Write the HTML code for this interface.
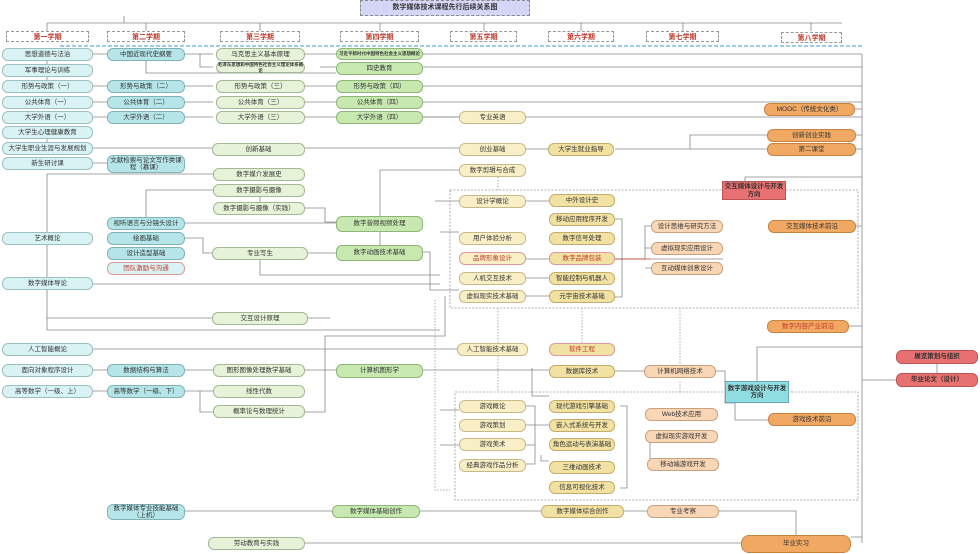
<!DOCTYPE html>
<html><head><meta charset="utf-8"><style>
*{margin:0;padding:0;box-sizing:border-box}
body{width:980px;height:554px;background:#fff;position:relative;overflow:hidden;font-family:"Liberation Sans","Noto Sans CJK SC",sans-serif}
.n{position:absolute;border-radius:6px;border:1px solid #9aa;font-size:6.5px;color:#333;display:flex;align-items:center;justify-content:center;text-align:center;line-height:1.15;height:13px}
.c1{background:#d9f2f4;border-color:#9bbfc3}
.c2{background:#b5e5e8;border-color:#7fb3b8}
.c3{background:#e6f3d9;border-color:#a4b894}
.c4{background:#c7e9b0;border-color:#8fb57a}
.c5{background:#f8efc6;border-color:#c9b98a}
.c6{background:#f1e1a2;border-color:#c4ad6a}
.c7{background:#f9d6b5;border-color:#caa07e}
.c8{background:#f0a862;border-color:#c98240}
.red{color:#c0392b}
.h{position:absolute;height:11px;border:1px dashed #999;font-size:7px;font-weight:bold;color:#c0392b;display:flex;align-items:center;justify-content:center}
svg{position:absolute;left:0;top:0}
</style></head><body>
<svg width="980" height="554" viewBox="0 0 980 554" fill="none" stroke="#888" stroke-width="0.8">
<path d="M124 16V23M47 23H842M47 23V31M146 23V31M260 23V31M380 23V31M484 23V31M581 23V31M683 23V31M811 23V31"/>
<path d="M60 46H862" stroke="#3a9bc8" stroke-dasharray="4,2" stroke-width="1"/>
<path d="M862 54V543M862 380H896M937 373V362"/>
<path d="M423 54H862M423 67H862M423 86H862M423 102H862M423 117H862M855 109H862M526 117H862M615 149H767M690 149V135H767M856 135H862M856 149H862M856 226H862M745 181V177H862M757 381V347H862M851 537H862M849 326H862"/>
<path d="M93 54H107M185 54H213M200 54V67H213M305 54H336M320 67H336M146 54V73H336M93 86H107M185 86H213M305 86H336M93 102H107M185 102H213M305 102H336M93 117H107M185 117H213M305 117H336M423 117H459M93 148H212M305 148H459M526 149H548M93 163H107M47 60V64M47 76V80M47 132V142"/>
<path d="M47 232V277M47 174V232M47 174H213M146 217V190H213M260 197V202M185 223H340M185 238H203V253H212M308 253H336M260 260V275H440M47 284H440M47 289V318H212M47 318V330H440M305 318H330M305 208H325V222H336M380 216V170H459M380 232V245M93 349H457M93 370H107M185 370H213M305 370H336M423 370H549M93 391H107M185 391H213M200 391V412H213M305 412H325V336H445V296M305 370H320"/>
<path d="M423 252H430V290H459M435 201H459M440 232H459M526 201H549M526 259H549M526 278H549M526 296H549M615 219H622V297H615M440 445H459M440 410H459M526 406H535V464H526M526 425H535M526 445H535M535 425H549M541 455V461H549M532 368V396H549M620 406H627V488H620M615 371H644M716 371H725V403H735V420H768M624 511H647M719 511H796V535M420 511H541M305 543H741M185 511H332M615 259H645V226H651M645 259V248H651M645 268H651M650 443V436H645M650 443V464H647M723 259H651"/>
<path d="M450 190H858V308H450ZM455 392H858V500H455Z" stroke="#999" stroke-dasharray="2,1.5"/>
<path d="M498 177V190M498 308V392M435 300V490H450M582 308V343M680 308V365M680 392V380" stroke="#999" stroke-dasharray="1.5,1.5"/>
<path d="M615 259H651" stroke="#c0392b"/>
</svg>
<div class="n" style="left:360px;top:0;width:170px;height:16px;background:#d5d6f7;border:1px dashed #888;border-radius:0;font-weight:bold;font-size:7px">数字媒体技术课程先行后续关系图</div>
<div class="h" style="left:6px;top:31px;width:83px">第一学期</div>
<div class="h" style="left:107px;top:31px;width:78px">第二学期</div>
<div class="h" style="left:220px;top:31px;width:80px">第三学期</div>
<div class="h" style="left:340px;top:31px;width:79px">第四学期</div>
<div class="h" style="left:450px;top:31px;width:67px">第五学期</div>
<div class="h" style="left:548px;top:31px;width:66px">第六学期</div>
<div class="h" style="left:646px;top:31px;width:73px">第七学期</div>
<div class="h" style="left:781px;top:32px;width:61px">第八学期</div>

<div class="n c1" style="left:2px;top:48px;width:91px">思想道德与法治</div>
<div class="n c1" style="left:2px;top:64px;width:91px">军事理论与训练</div>
<div class="n c1" style="left:2px;top:80px;width:91px">形势与政策（一）</div>
<div class="n c1" style="left:2px;top:96px;width:91px">公共体育（一）</div>
<div class="n c1" style="left:2px;top:111px;width:91px">大学外语（一）</div>
<div class="n c1" style="left:2px;top:126px;width:91px">大学生心理健康教育</div>
<div class="n c1" style="left:2px;top:142px;width:91px">大学生职业生涯与发展规划</div>
<div class="n c1" style="left:2px;top:157px;width:91px">新生研讨课</div>
<div class="n c1" style="left:2px;top:232px;width:91px">艺术概论</div>
<div class="n c1" style="left:2px;top:277px;width:91px">数字媒体导论</div>
<div class="n c1" style="left:2px;top:343px;width:91px">人工智能概论</div>
<div class="n c1" style="left:2px;top:364px;width:91px">面向对象程序设计</div>
<div class="n c1" style="left:2px;top:385px;width:91px">高等数学（一级、上）</div>

<div class="n c2" style="left:107px;top:48px;width:78px">中国近现代史纲要</div>
<div class="n c2" style="left:107px;top:80px;width:78px">形势与政策（二）</div>
<div class="n c2" style="left:107px;top:96px;width:78px">公共体育（二）</div>
<div class="n c2" style="left:107px;top:111px;width:78px">大学外语（二）</div>
<div class="n c2" style="left:107px;top:155px;width:78px;height:18px">文献检索与论文写作类课程（慕课）</div>
<div class="n c2" style="left:107px;top:217px;width:78px">视听语言与分镜头设计</div>
<div class="n c2" style="left:107px;top:232px;width:78px">绘画基础</div>
<div class="n c2" style="left:107px;top:247px;width:78px">设计造型基础</div>
<div class="n c1 red" style="left:107px;top:262px;width:78px;border-color:#d99">团队激励与沟通</div>
<div class="n c2" style="left:107px;top:364px;width:78px">数据结构与算法</div>
<div class="n c2" style="left:107px;top:385px;width:78px">高等数学（一级、下）</div>
<div class="n c2" style="left:107px;top:504px;width:78px;height:16px">数字媒体专业技能基础（上机）</div>

<div class="n c3" style="left:216px;top:48px;width:89px">马克思主义基本原理</div>
<div class="n c3" style="left:216px;top:62px;width:89px;height:11px;font-size:4.5px;font-weight:bold">毛泽东思想和中国特色社会主义理论体系概论</div>
<div class="n c3" style="left:216px;top:80px;width:89px">形势与政策（三）</div>
<div class="n c3" style="left:216px;top:96px;width:89px">公共体育（三）</div>
<div class="n c3" style="left:216px;top:111px;width:89px">大学外语（三）</div>
<div class="n c3" style="left:212px;top:143px;width:93px">创新基础</div>
<div class="n c3" style="left:213px;top:168px;width:92px">数字媒介发展史</div>
<div class="n c3" style="left:213px;top:184px;width:92px">数字摄影与摄像</div>
<div class="n c3" style="left:213px;top:202px;width:92px">数字摄影与摄像（实践）</div>
<div class="n c3" style="left:212px;top:247px;width:96px">专业写生</div>
<div class="n c3" style="left:212px;top:312px;width:96px">交互设计原理</div>
<div class="n c3" style="left:213px;top:364px;width:92px">图形图像处理数学基础</div>
<div class="n c3" style="left:213px;top:385px;width:92px">线性代数</div>
<div class="n c3" style="left:213px;top:405px;width:92px">概率论与数理统计</div>
<div class="n c3" style="left:208px;top:537px;width:97px">劳动教育与实践</div>

<div class="n c4" style="left:336px;top:48px;width:87px;height:12px;font-size:4.5px;font-weight:bold">习近平新时代中国特色社会主义思想概论</div>
<div class="n c4" style="left:336px;top:62px;width:87px">四史教育</div>
<div class="n c4" style="left:336px;top:80px;width:87px">形势与政策（四）</div>
<div class="n c4" style="left:336px;top:96px;width:87px">公共体育（四）</div>
<div class="n c4" style="left:336px;top:111px;width:87px">大学外语（四）</div>
<div class="n c4" style="left:336px;top:216px;width:87px;height:16px">数字音频视频处理</div>
<div class="n c4" style="left:336px;top:245px;width:87px;height:16px">数字动画技术基础</div>
<div class="n c4" style="left:336px;top:364px;width:87px;height:14px">计算机图形学</div>
<div class="n c4" style="left:332px;top:505px;width:88px">数字媒体基础创作</div>

<div class="n c5" style="left:459px;top:111px;width:67px">专业英语</div>
<div class="n c5" style="left:459px;top:143px;width:67px">创业基础</div>
<div class="n c5" style="left:459px;top:164px;width:67px">数字剪辑与合成</div>
<div class="n c5" style="left:459px;top:195px;width:67px">设计学概论</div>
<div class="n c5" style="left:459px;top:232px;width:67px">用户体验分析</div>
<div class="n c5 red" style="left:459px;top:252px;width:67px;border-color:#d99">品牌形象设计</div>
<div class="n c5" style="left:459px;top:272px;width:67px">人机交互技术</div>
<div class="n c5" style="left:459px;top:290px;width:67px">虚拟现实技术基础</div>
<div class="n c5" style="left:457px;top:343px;width:71px">人工智能技术基础</div>
<div class="n c5" style="left:459px;top:400px;width:67px">游戏概论</div>
<div class="n c5" style="left:459px;top:419px;width:67px">游戏策划</div>
<div class="n c5" style="left:459px;top:438px;width:67px">游戏美术</div>
<div class="n c5" style="left:459px;top:459px;width:67px">经典游戏作品分析</div>

<div class="n c6" style="left:548px;top:143px;width:66px">大学生就业指导</div>
<div class="n c6" style="left:549px;top:194px;width:66px">中外设计史</div>
<div class="n c6" style="left:549px;top:213px;width:66px">移动应用程序开发</div>
<div class="n c6" style="left:549px;top:232px;width:66px">数字信号处理</div>
<div class="n c6 red" style="left:549px;top:252px;width:66px;border-color:#d99">数字品牌包装</div>
<div class="n c6" style="left:549px;top:272px;width:66px">智能控制与机器人</div>
<div class="n c6" style="left:549px;top:290px;width:66px">元宇宙技术基础</div>
<div class="n c6 red" style="left:549px;top:343px;width:66px;border-color:#d99">软件工程</div>
<div class="n c6" style="left:549px;top:365px;width:66px">数据库技术</div>
<div class="n c6" style="left:549px;top:400px;width:66px">现代游戏引擎基础</div>
<div class="n c6" style="left:549px;top:419px;width:66px">嵌入式系统与开发</div>
<div class="n c6" style="left:549px;top:438px;width:66px">角色运动与表演基础</div>
<div class="n c6" style="left:549px;top:461px;width:66px">三维动画技术</div>
<div class="n c6" style="left:549px;top:481px;width:66px">信息可视化技术</div>
<div class="n c6" style="left:541px;top:505px;width:83px">数字媒体综合创作</div>

<div class="n c7" style="left:651px;top:220px;width:72px">设计思维与研究方法</div>
<div class="n c7" style="left:651px;top:242px;width:72px">虚拟现实应用设计</div>
<div class="n c7" style="left:651px;top:262px;width:72px">互动媒体创意设计</div>
<div class="n c7" style="left:644px;top:365px;width:72px">计算机网络技术</div>
<div class="n c7" style="left:645px;top:408px;width:73px">Web技术应用</div>
<div class="n c7" style="left:645px;top:430px;width:73px">虚拟现实游戏开发</div>
<div class="n c7" style="left:647px;top:458px;width:72px">移动端游戏开发</div>
<div class="n c7" style="left:647px;top:505px;width:72px">专业考察</div>

<div class="n c8" style="left:764px;top:103px;width:91px">MOOC（传统文化类）</div>
<div class="n c8" style="left:767px;top:129px;width:89px">创新创业实践</div>
<div class="n c8" style="left:767px;top:143px;width:89px">第二课堂</div>
<div class="n c8" style="left:768px;top:220px;width:88px">交互媒体技术前沿</div>
<div class="n c8 red" style="left:767px;top:320px;width:82px">数字内容产业前沿</div>
<div class="n c8" style="left:768px;top:413px;width:88px">游戏技术前沿</div>
<div class="n c8" style="left:741px;top:535px;width:110px;height:18px;border-radius:8px">毕业实习</div>

<div class="n" style="left:722px;top:181px;width:64px;height:19px;background:#e97070;border-color:#b55;border-radius:0;font-weight:bold">交互媒体设计与开发方向</div>
<div class="n" style="left:725px;top:381px;width:64px;height:22px;background:#8fdde1;border-color:#6ab;border-radius:0;font-weight:bold">数字游戏设计与开发方向</div>
<div class="n" style="left:896px;top:350px;width:82px;height:14px;background:#e97070;border-color:#b55;font-weight:bold">展览策划与组织</div>
<div class="n" style="left:896px;top:373px;width:82px;height:14px;background:#e97070;border-color:#b55;font-weight:bold">毕业论文（设计）</div>
</body></html>
